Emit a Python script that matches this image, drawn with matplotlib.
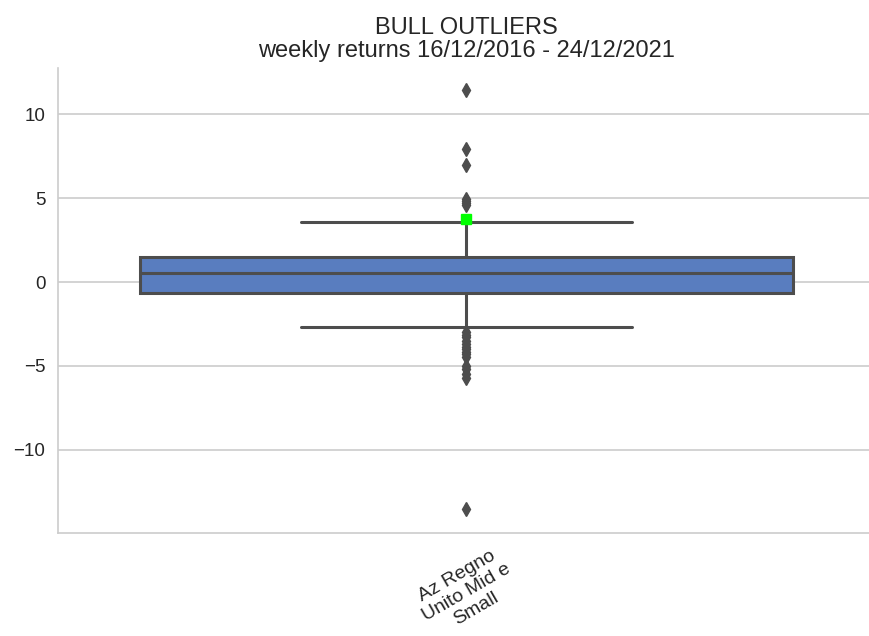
import colorsys
import matplotlib
matplotlib.use("Agg")
import matplotlib.pyplot as plt
import matplotlib.colors as mcolors
import seaborn as sns

# box statistics (weekly returns, %)
label = "Az Regno\nUnito Mid e\nSmall"
q1 = -0.64
median = 0.52
q3 = 1.50
whisker_lo = -2.66
whisker_hi = 3.55
mean_value = 3.78
upper_outliers = [11.45, 7.92, 6.96, 4.95, 4.8, 4.68, 4.58]
lower_outliers = [-3.0, -3.15, -3.3, -3.5, -3.7, -3.85, -4.0, -4.15, -4.3, -4.45,
                  -5.0, -5.2, -5.45, -5.7, -13.55]

sns.set_theme(style="whitegrid", palette="muted")
plt.rcParams['font.family'] = ['Liberation Sans', 'DejaVu Sans']

# seaborn-like desaturated box colour
r, g, b = mcolors.to_rgb(sns.color_palette("muted")[0])
h, l, s = colorsys.rgb_to_hls(r, g, b)
box_color = colorsys.hls_to_rgb(h, l, s * 0.75)
line_color = "#4d4d4d"

stats = [{
    "label": label,
    "q1": q1, "med": median, "q3": q3,
    "whislo": whisker_lo, "whishi": whisker_hi,
    "mean": mean_value,
    "fliers": upper_outliers + lower_outliers,
}]

fig = plt.figure(figsize=(8.7, 6.36), dpi=100)
# the axes runs a little past the right edge, as in the reference crop
ax = fig.add_axes([0.0672, 0.162, 0.938, 0.731])

lw = 2.2
ax.bxp(stats, positions=[0], widths=0.8, patch_artist=True, showmeans=True,
       boxprops=dict(facecolor=box_color, edgecolor=line_color, linewidth=lw),
       medianprops=dict(color=line_color, linewidth=lw),
       whiskerprops=dict(color=line_color, linewidth=lw),
       capprops=dict(color=line_color, linewidth=lw),
       capwidths=0.405,
       flierprops=dict(marker="d", markerfacecolor=line_color,
                       markeredgecolor=line_color, markersize=7.5),
       meanprops=dict(marker="s", markerfacecolor="#00ff00",
                      markeredgecolor="#00ff00", markersize=7))

ax.set_xlim(-0.5, 0.5)
ax.set_ylim(-14.95, 12.75)
ax.set_yticks([-10, -5, 0, 5, 10])
ax.tick_params(axis="y", labelsize=13.5, colors="#262626")
ax.tick_params(axis="x", labelsize=14, colors="#262626", pad=2)
ax.set_xticks([0])
ax.set_xticklabels([label], rotation=30, ha="center", multialignment="center",
                   linespacing=1.15)

ax.grid(axis="x", visible=False)
ax.grid(axis="y", color="#cccccc", linewidth=1.2)
for side in ["top", "right"]:
    ax.spines[side].set_visible(False)
for side in ["left", "bottom"]:
    ax.spines[side].set_color("#cccccc")
    ax.spines[side].set_linewidth(1.2)

ax.set_title("BULL OUTLIERS\nweekly returns 16/12/2016 - 24/12/2021",
             fontsize=17, color="#262626", pad=8, linespacing=1.05)

fig.savefig("out.png", dpi=100)
